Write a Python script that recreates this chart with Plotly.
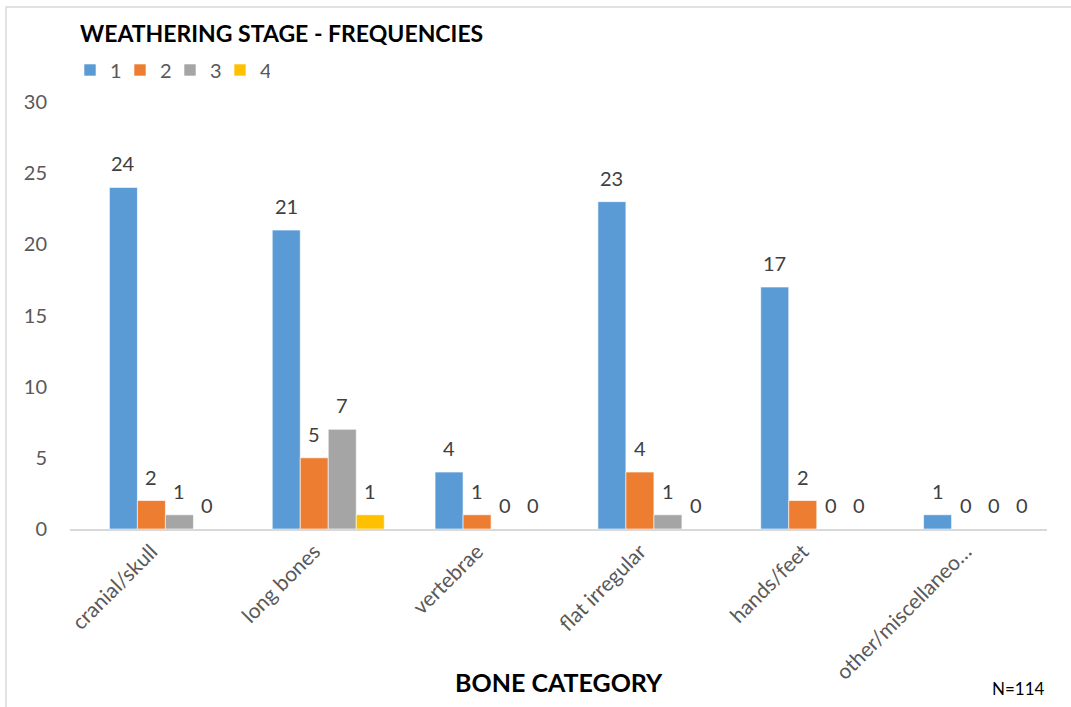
import plotly.graph_objects as go

categories = ["cranial/skull", "long bones", "vertebrae", "flat irregular",
              "hands/feet", "other/miscellaneo…"]
stage_names = ["1", "2", "3", "4"]
stage_1 = [24, 21, 4, 23, 17, 1]
stage_2 = [2, 5, 1, 4, 2, 0]
stage_3 = [1, 7, 0, 1, 0, 0]
stage_4 = [0, 1, 0, 0, 0, 0]
colors = ["#5B9BD5", "#ED7D31", "#A5A5A5", "#FFC000"]

series = [stage_1, stage_2, stage_3, stage_4]

FONT = "Lato, 'Open Sans', sans-serif"
TXT = "#595959"

# five equal slots per category; the stages fill slots 2-5
gap = 0.14
slot = (1 - gap) / 5
x_idx = list(range(len(categories)))

fig = go.Figure()
for k, (name, vals, col) in enumerate(zip(stage_names, series, colors)):
    off = -(1 - gap) / 2 + (k + 1) * slot
    fig.add_trace(go.Bar(
        x=x_idx, y=vals, name=name,
        marker=dict(color=col, line=dict(color="white", width=0.6)),
        width=slot, offset=off,
    ))
    # value labels above each bar
    for xi, v in zip(x_idx, vals):
        fig.add_annotation(x=xi + off + slot / 2, y=v, text=str(v),
                           showarrow=False, yanchor="middle", yshift=24,
                           font=dict(family=FONT, size=20, color="#404040"))

fig.update_layout(
    width=1071, height=707,
    margin=dict(l=70, r=24, t=102, b=178, autoexpand=False),
    paper_bgcolor="white", plot_bgcolor="white",
    barmode="overlay",
    font=dict(family=FONT, color=TXT, size=20),
    title=dict(text="<b>WEATHERING STAGE - FREQUENCIES</b>",
               font=dict(family=FONT, size=23, color="black"),
               x=80 / 1071, xanchor="left", xref="container",
               y=1 - 34 / 707, yanchor="middle", yref="container"),
    legend=dict(orientation="h", x=0.0, xanchor="left", y=1.075, yanchor="middle",
                font=dict(family=FONT, size=20, color=TXT),
                entrywidth=5, itemwidth=30, traceorder="normal",
                bgcolor="rgba(0,0,0,0)"),
    showlegend=True,
)

fig.update_xaxes(
    tickmode="array", tickvals=x_idx, ticktext=categories,
    range=[-0.5, len(categories) - 0.5], automargin=False,
    tickangle=-45, tickfont=dict(family=FONT, size=21, color=TXT),
    showgrid=False, showline=True, linecolor="#D9D9D9", linewidth=2,
    ticks="", zeroline=False,
)
fig.update_yaxes(
    range=[0, 30], dtick=5, showgrid=False, showline=False, zeroline=False,
    automargin=False,
    tickfont=dict(family=FONT, size=20, color=TXT), ticklabelstandoff=22,
)

# x-axis title
fig.add_annotation(text="<b>BONE CATEGORY</b>", xref="paper", yref="paper",
                   x=0.5, y=(529 - 682) / 427, xanchor="center", yanchor="middle",
                   showarrow=False, font=dict(family=FONT, size=25, color="black"))

fig.add_annotation(text="N=114", xref="paper", yref="paper",
                   x=(1047 - 70) / 977, y=(529 - 688) / 427,
                   xanchor="right", yanchor="middle", showarrow=False,
                   font=dict(family=FONT, size=17, color="black"))

# chart frame
fig.add_shape(type="rect", xref="paper", yref="paper",
              x0=(6 - 70) / 977, x1=(1090 - 70) / 977,
              y0=(529 - 760) / 427, y1=(529 - 7) / 427,
              line=dict(color="#D9D9D9", width=1.5), fillcolor="rgba(0,0,0,0)",
              layer="below")

fig.write_html("out.html")
